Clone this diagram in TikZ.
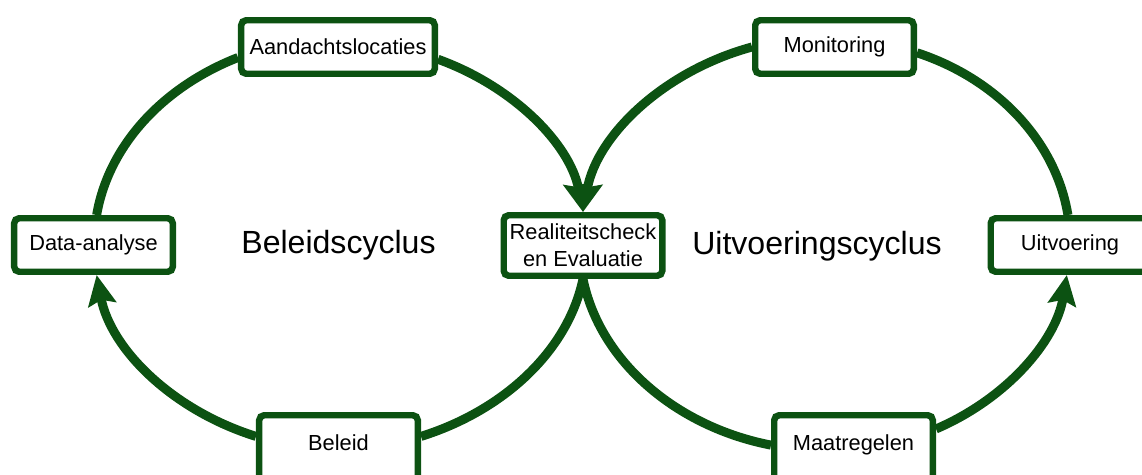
\documentclass[tikz,border=0pt]{standalone}
\usepackage{fontspec}
\setmainfont{Liberation Sans}
\usetikzlibrary{arrows.meta}
\definecolor{cyclegreen}{RGB}{12,82,18}

\begin{document}
\begin{tikzpicture}[x=0.025cm, y=0.025cm,
  stagebox/.style={draw=cyclegreen, line width=4.6pt, rounded corners=3.5pt, fill=white,
    minimum width=3.9625cm, minimum height=1.3375cm, inner xsep=4pt, align=center,
    font=\fontsize{15.5}{19}\selectfont},
  lowbox/.style={stagebox, minimum height=1.6375cm, text depth=0.25cm},
  cycleline/.style={draw=cyclegreen, line width=6.4pt},
  cyclearrow/.style={cycleline, -{Stealth[length=0.75cm, width=0.7cm, inset=0.12cm]}},
  cyclelabel/.style={font=\fontsize{22.8}{27}\selectfont}]
  \clip (0,0) rectangle (1142,474);

  % stages of both cycles
  \node[stagebox, minimum width=4.8375cm] (aand) at (338,427) {Aandachtslocaties};
  \node[stagebox] (data) at (93.5,229) {Data-analyse};
  \node[lowbox] (beleid) at (338.5,26) {Beleid};
  \node[stagebox, minimum height=1.5125cm] (real) at (583,228.5) {Realiteitscheck\\en Evaluatie};
  \node[stagebox] (monitor) at (834.5,427) {Monitoring};
  \node[stagebox] (uitv) at (1070,229) {Uitvoering};
  \node[lowbox] (maat) at (853.5,26) {Maatregelen};

  \node[cyclelabel] (beleidlabel) at (338.5,229) {Beleidscyclus};
  \node[cyclelabel] (uitvlabel) at (817,228) {Uitvoeringscyclus};

  % left cycle
  \draw[cyclearrow] (beleid.172.0) .. controls (171.6,64.0) and (110.6,125.4) .. (data.276.5);
  \draw[cycleline] (data.84.3) .. controls (108.4,327.7) and (161.8,386.6) .. (aand.186.8);
  \draw[cyclearrow] (aand.353.4) .. controls (513.5,387.5) and (570.0,329.8) .. (real.north);
  \draw[cycleline] (real.south) .. controls (567.9,123.1) and (503.7,63.5) .. (beleid.8.0);

  % right cycle
  \draw[cycleline] (real.south) .. controls (599.6,113.0) and (675.7,47.4) .. (maat.178.3);
  \draw[cyclearrow] (maat.13.0) .. controls (1006.9,75.5) and (1055.9,133.2) .. (uitv.264.9);
  \draw[cycleline] (uitv.94.3) .. controls (1056.0,331.8) and (998.3,394.5) .. (monitor.356.7);
  \draw[cyclearrow] (monitor.west) .. controls (664.4,403.2) and (597.2,339.3) .. (real.north);
\end{tikzpicture}
\end{document}
